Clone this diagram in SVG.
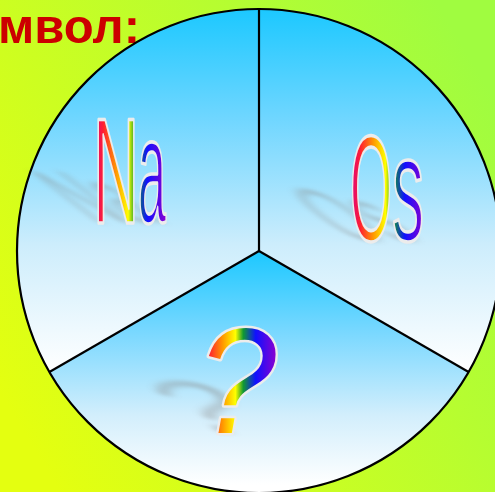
<svg xmlns="http://www.w3.org/2000/svg" width="495" height="492" viewBox="0 0 495 492">
<defs>
<linearGradient id="bg" x1="0" y1="0.8" x2="1" y2="0.2">
<stop offset="0" stop-color="#e4ff10"/>
<stop offset="1" stop-color="#a0fc40"/>
</linearGradient>
<linearGradient id="skyU" gradientUnits="userSpaceOnUse" x1="0" y1="9" x2="0" y2="372">
<stop offset="0" stop-color="#1cc8ff"/>
<stop offset="0.3" stop-color="#6fd6ff"/>
<stop offset="0.65" stop-color="#cdedfc"/>
<stop offset="1" stop-color="#ffffff"/>
</linearGradient>
<linearGradient id="skyL" gradientUnits="userSpaceOnUse" x1="0" y1="251" x2="0" y2="485">
<stop offset="0" stop-color="#1cc8ff"/>
<stop offset="0.35" stop-color="#7ad8ff"/>
<stop offset="0.7" stop-color="#d2eefc"/>
<stop offset="1" stop-color="#ffffff"/>
</linearGradient>
<linearGradient id="rainbow" x1="0" y1="0" x2="1" y2="0">
<stop offset="0" stop-color="#d8008c"/>
<stop offset="0.14" stop-color="#ff2030"/>
<stop offset="0.32" stop-color="#ff9a00"/>
<stop offset="0.48" stop-color="#ffff00"/>
<stop offset="0.58" stop-color="#109a30"/>
<stop offset="0.74" stop-color="#1010ff"/>
<stop offset="1" stop-color="#8a00d0"/>
</linearGradient>
<filter id="blur" x="-30%" y="-30%" width="160%" height="160%">
<feGaussianBlur stdDeviation="4.5"/>
</filter>
</defs>
<style>
.lbl{font-family:"Liberation Sans",Arial,sans-serif;font-size:150px;fill:url(#rainbow);stroke:#ececec;stroke-width:3.6;stroke-linejoin:round}
.shd{font-family:"Liberation Sans",Arial,sans-serif;font-size:150px;fill:#8a8a8a;opacity:0.4;filter:url(#blur)}
.q{font-style:italic;stroke-width:5;paint-order:stroke}
.div{stroke:#000;stroke-width:2.2;fill:none}
</style>
<rect x="0" y="0" width="495" height="492" fill="url(#bg)"/>
<text x="140" y="43" text-anchor="end" font-family="'Liberation Sans',Arial,sans-serif" font-weight="bold" font-size="49" fill="#cc0000">мвол:</text>
<g id="sector-na">
<path d="M259,251 L259,9 A242,242 0 0 0 49.4,372 Z" fill="url(#skyU)"/>
<text class="shd" x="94" y="223" textLength="70" lengthAdjust="spacingAndGlyphs" transform="matrix(1,0,0.65,0.5,-145,111.5)">Na</text>
<text class="lbl" y="223"><tspan x="93" textLength="46" lengthAdjust="spacingAndGlyphs">N</tspan><tspan x="138" textLength="28" lengthAdjust="spacingAndGlyphs">a</tspan></text>
</g>
<g id="sector-os">
<path d="M259,251 L259,9 A242,242 0 0 1 468.6,372 Z" fill="url(#skyU)"/>
<text class="shd" x="349" y="241" textLength="74" lengthAdjust="spacingAndGlyphs" transform="matrix(1,0,0.65,0.5,-156.7,120.5)">Os</text>
<text class="lbl" y="241"><tspan x="350" textLength="42" lengthAdjust="spacingAndGlyphs">O</tspan><tspan x="392" textLength="32" lengthAdjust="spacingAndGlyphs">s</tspan></text>
</g>
<g id="sector-q">
<path d="M259,251 L49.4,372 A242,242 0 0 0 468.6,372 Z" fill="url(#skyL)"/>
<text class="shd" x="198" y="433" font-style="italic" textLength="78" lengthAdjust="spacingAndGlyphs" transform="matrix(1,0,0.65,0.5,-281.5,216.5)">?</text>
<text class="lbl q" x="198" y="433" textLength="78" lengthAdjust="spacingAndGlyphs">?</text>
</g>
<g id="connectors">
<circle cx="259" cy="251" r="242" class="div" stroke-width="2.5"/>
<line x1="259" y1="9" x2="259" y2="251" class="div"/>
<line x1="259" y1="251" x2="49.4" y2="372" class="div"/>
<line x1="259" y1="251" x2="468.6" y2="372" class="div"/>
</g>
</svg>
